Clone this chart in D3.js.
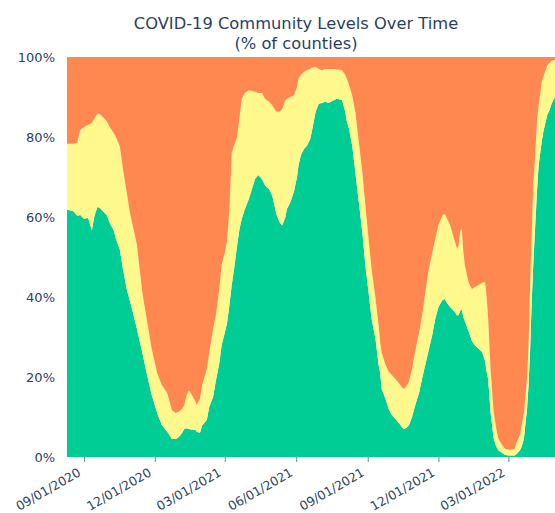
<!DOCTYPE html>
<html>
<head>
<meta charset="utf-8">
<script src="https://cdn.jsdelivr.net/npm/d3@7"></script>
<style>
  html, body { margin: 0; padding: 0; background: #fff; }
  svg { display: block; font-family: "DejaVu Sans", Verdana, sans-serif; }
</style>
</head>
<body>
<svg id="chart" width="555" height="513"></svg>
<script>
const dates = [
"2020-08-10","2020-08-18","2020-08-23","2020-08-27","2020-09-01","2020-09-06","2020-09-11","2020-09-14","2020-09-18","2020-09-21",
"2020-09-25","2020-09-30","2020-10-04","2020-10-09","2020-10-12","2020-10-17","2020-10-21","2020-10-26","2020-10-30","2020-11-03",
"2020-11-08","2020-11-15","2020-11-21","2020-11-27","2020-12-04","2020-12-10","2020-12-17","2020-12-23","2020-12-28","2021-01-01",
"2021-01-05","2021-01-08","2021-01-11","2021-01-14","2021-01-18","2021-01-22","2021-01-24","2021-01-28","2021-01-31","2021-02-06",
"2021-02-09","2021-02-14","2021-02-18","2021-02-22","2021-02-25","2021-03-01","2021-03-04","2021-03-07","2021-03-10","2021-03-13",
"2021-03-17","2021-03-20","2021-03-23","2021-03-27","2021-04-01","2021-04-05","2021-04-09","2021-04-13","2021-04-18","2021-04-22",
"2021-04-27","2021-05-01","2021-05-05","2021-05-07","2021-05-11","2021-05-14","2021-05-18","2021-05-20","2021-05-24","2021-05-29",
"2021-06-02","2021-06-04","2021-06-07","2021-06-11","2021-06-15","2021-06-19","2021-06-21","2021-06-26","2021-06-30","2021-07-04",
"2021-07-08","2021-07-13","2021-07-17","2021-07-21","2021-07-23","2021-07-27","2021-07-30","2021-08-03","2021-08-05","2021-08-08",
"2021-08-12","2021-08-16","2021-08-20","2021-08-25","2021-08-29","2021-09-02","2021-09-06","2021-09-11","2021-09-15","2021-09-17",
"2021-09-19","2021-09-24","2021-09-28","2021-10-02","2021-10-06","2021-10-11","2021-10-17","2021-10-20","2021-10-24","2021-10-28",
"2021-11-01","2021-11-06","2021-11-10","2021-11-14","2021-11-18","2021-11-23","2021-11-27","2021-12-01","2021-12-06","2021-12-09",
"2021-12-12","2021-12-16","2021-12-21","2021-12-25","2021-12-27","2021-12-29","2021-12-31","2022-01-02","2022-01-04","2022-01-09",
"2022-01-13","2022-01-17","2022-01-22","2022-01-26","2022-01-30","2022-02-01","2022-02-03","2022-02-06","2022-02-10","2022-02-13",
"2022-02-16","2022-02-21","2022-02-25","2022-03-03","2022-03-09","2022-03-12","2022-03-16","2022-03-18","2022-03-21","2022-03-25",
"2022-03-27","2022-03-29","2022-03-31","2022-04-02","2022-04-05","2022-04-07","2022-04-09","2022-04-13","2022-04-15","2022-04-20",
"2022-04-22","2022-04-26","2022-04-30"
];
const lowPct = [
61.8,61.5,60.3,60.5,59.5,59.8,56.7,60.0,62.5,62.3,
61.5,60.5,58.5,56.7,54.5,51.8,47.0,41.8,39.0,36.0,
32.0,26.0,20.5,15.5,11.0,8.0,6.3,4.5,4.5,5.0,
6.0,7.0,7.2,7.0,6.8,6.8,6.3,6.0,7.9,9.3,
12.5,15.0,19.5,23.5,28.0,31.0,33.5,38.0,43.0,47.0,
53.0,57.0,59.6,62.0,64.5,67.0,69.5,70.5,69.5,67.9,
67.0,65.4,62.0,60.4,58.5,57.9,60.0,62.0,63.5,66.3,
70.0,73.0,75.5,77.0,77.9,79.5,81.3,86.3,88.3,88.5,
88.8,88.5,89.0,89.3,89.6,89.4,89.2,86.3,84.0,82.0,
77.9,71.3,64.6,56.3,47.9,41.3,34.5,29.5,23.0,21.0,
17.0,14.5,12.0,10.5,9.6,8.5,7.0,7.2,7.9,10.0,
12.9,16.0,19.6,23.0,26.3,30.5,34.6,37.5,39.2,39.5,
38.5,37.5,36.5,35.4,35.5,36.5,37.0,35.0,34.0,31.3,
29.0,27.9,27.0,26.3,24.0,21.3,19.5,11.3,4.6,2.8,
1.7,1.0,0.5,0.4,0.4,0.8,1.7,2.5,4.6,12.0,
18.0,27.0,38.8,48.0,59.6,67.0,73.0,79.0,81.3,85.5,
86.3,88.5,90.0
];
const mediumPct = [
16.5,16.8,18.2,21.2,23.0,23.2,26.8,24.5,23.3,23.5,
23.5,23.5,24.0,24.3,25.5,25.8,25.0,24.2,22.0,21.5,
21.0,15.0,13.5,11.5,10.0,10.0,9.7,7.2,6.5,6.3,
6.0,6.0,8.3,9.7,8.6,7.2,6.7,8.5,10.1,12.7,
13.5,17.0,16.5,18.5,20.0,20.0,20.5,24.0,33.0,31.0,
27.0,28.0,30.0,29.0,27.2,24.5,21.8,20.5,21.5,21.6,
21.8,22.6,24.7,25.9,27.9,29.1,29.2,27.5,26.5,24.1,
22.5,21.6,20.0,19.3,18.8,17.5,16.0,11.2,8.7,8.2,
8.2,8.5,8.0,7.7,7.3,7.4,7.5,9.2,10.6,11.0,
12.5,15.0,15.0,15.0,15.0,13.3,12.5,10.1,10.0,7.8,
9.0,8.5,9.3,10.0,10.0,10.0,10.0,10.3,10.9,12.0,
13.4,15.0,15.8,18.0,20.0,20.5,20.0,20.5,21.2,21.3,
21.1,20.5,18.1,16.6,17.5,20.0,20.0,16.3,13.9,12.2,
13.0,14.6,16.0,17.2,19.8,18.7,15.1,10.7,6.7,4.7,
2.9,2.0,1.5,1.4,1.6,3.0,3.8,5.4,6.4,7.6,
10.0,16.0,16.2,20.0,17.4,17.6,15.0,14.8,13.7,12.4,
12.0,10.5,9.3
];
const highPct = [
21.7,21.7,21.5,18.3,17.5,17.0,16.5,15.5,14.2,14.2,
15.0,16.0,17.5,19.0,20.0,22.4,28.0,34.0,39.0,42.5,
47.0,59.0,66.0,73.0,79.0,82.0,84.0,88.3,89.0,88.7,
88.0,87.0,84.5,83.3,84.6,86.0,87.0,85.5,82.0,78.0,
74.0,68.0,64.0,58.0,52.0,49.0,46.0,38.0,24.0,22.0,
20.0,15.0,10.4,9.0,8.3,8.5,8.7,9.0,9.0,10.5,
11.2,12.0,13.3,13.7,13.6,13.0,10.8,10.5,10.0,9.6,
7.5,5.4,4.5,3.7,3.3,3.0,2.7,2.5,3.0,3.3,
3.0,3.0,3.0,3.0,3.1,3.2,3.3,4.5,5.4,7.0,
9.6,13.7,20.4,28.7,37.1,45.4,53.0,60.4,67.0,71.2,
74.0,77.0,78.7,79.5,80.4,81.5,83.0,82.5,81.2,78.0,
73.7,69.0,64.6,59.0,53.7,49.0,45.4,42.0,39.6,39.2,
40.4,42.0,45.4,48.0,47.0,43.5,43.0,48.7,52.1,56.5,
58.0,57.5,57.0,56.5,56.2,60.0,65.4,78.0,88.7,92.5,
95.4,97.0,98.0,98.2,98.0,96.2,94.5,92.1,89.0,80.4,
72.0,57.0,45.0,32.0,23.0,15.4,12.0,6.2,5.0,2.1,
1.7,1.0,0.7
];
const seriesKeys = ["low", "medium", "high"];
const seriesColors = ["#00CC96", "#FFF98D", "#FF8850"];
const yTickValues = [0, 20, 40, 60, 80, 100];
const xTickDates = ["2020-09-01","2020-12-01","2021-03-01","2021-06-01","2021-09-01","2021-12-01","2022-03-01"];
const xTickLabels = ["09/01/2020","12/01/2020","03/01/2021","06/01/2021","09/01/2021","12/01/2021","03/01/2022"];
const xDomain = ["2020-08-10", "2022-04-30"];
const titleLines = ["COVID-19 Community Levels Over Time", "(% of counties)"];

const parse = d3.utcParse("%Y-%m-%d");
const rows = dates.map((d, i) => ({ date: parse(d), low: lowPct[i], medium: mediumPct[i], high: highPct[i] }));

const FONT = "'DejaVu Sans', Verdana, sans-serif";
const svg = d3.select("#chart");
const W = 555, H = 513;
const m = { left: 67, right: 0, top: 57, bottom: 56 };

const x = d3.scaleUtc().domain(xDomain.map(parse)).range([m.left, W - m.right]);
const y = d3.scaleLinear().domain([0, 100]).range([H - m.bottom, m.top]);

svg.append("rect").attr("width", W).attr("height", H).attr("fill", "#fff");

const stack = d3.stack().keys(seriesKeys);
const layers = stack(rows);
const area = d3.area()
  .x(d => x(d.data.date))
  .y0(d => y(d[0]))
  .y1(d => y(d[1]));

svg.append("g").selectAll("path").data(layers).join("path")
  .attr("d", area)
  .attr("fill", (d, i) => seriesColors[i]);

// Y axis
const yAxis = d3.axisLeft(y).tickValues(yTickValues).tickFormat(d => d + "%").tickSize(0).tickPadding(12);
const gy = svg.append("g").attr("transform", `translate(${m.left},0)`).call(yAxis);
gy.select(".domain").remove();
gy.selectAll("text").attr("fill", "#2a3f5f").style("font-size", "13px").style("font-family", FONT);

// X axis
const xAxis = d3.axisBottom(x)
  .tickValues(xTickDates.map(parse))
  .tickFormat((d, i) => xTickLabels[i])
  .tickSize(5);
const gx = svg.append("g").attr("transform", `translate(0,${H - m.bottom})`).call(xAxis);
gx.select(".domain").remove();
gx.selectAll(".tick line").attr("stroke", "#7f7f7f").attr("stroke-width", 1);
gx.selectAll("text")
  .attr("fill", "#2a3f5f")
  .style("font-size", "12.5px")
  .style("font-family", FONT)
  .attr("text-anchor", "end")
  .attr("x", 0).attr("y", 0).attr("dy", 0)
  .attr("transform", "translate(-3,18) rotate(-30)");

// Title
svg.append("g").selectAll("text").data(titleLines).join("text")
  .attr("x", 296)
  .attr("y", (d, i) => 29 + i * 20)
  .attr("text-anchor", "middle")
  .attr("fill", "#2a3f5f")
  .style("font-size", "16.3px")
  .style("font-family", FONT)
  .text(d => d);
</script>
</body>
</html>
